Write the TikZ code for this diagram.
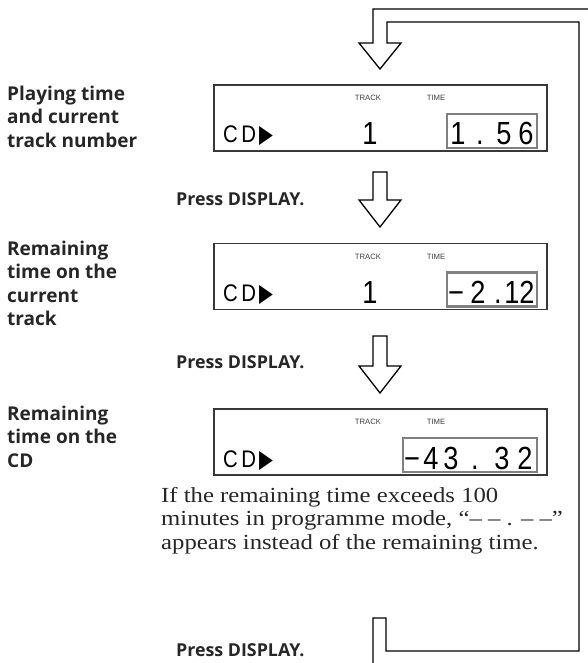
\documentclass[tikz,border=0pt]{standalone}
\usepackage{fontspec}
\setmainfont{Liberation Serif}
\newfontfamily\notefont{Liberation Serif}[FakeStretch=1.15]
\newfontfamily\labfont{Open Sans}
\newfontfamily\lcdfont{Liberation Sans}[FakeStretch=0.85]
\newfontfamily\smallfont{Liberation Sans}
\newfontfamily\symfont{DejaVu Sans}
\newcommand{\cdplay}{C\hspace{3.5pt}D\hspace{3pt}{\symfont\fontsize{25}{25}\selectfont\scalebox{0.72}[1]{▶}}}
\begin{document}
\begin{tikzpicture}[x=1pt,y=-1pt,
  loopline/.style={draw=black,line width=1.3pt,line join=miter},
  dispbox/.style={draw=black!78,line width=1.3pt,minimum width=333pt,minimum height=66pt,inner sep=0pt},
  timebox/.style={draw=black!50,line width=2.2pt,minimum height=34pt,inner sep=0pt},
  lab/.style={font=\labfont\bfseries\fontsize{19}{23.5}\selectfont,anchor=north west,align=left,inner sep=0pt,text=black!85},
  press/.style={font=\labfont\bfseries\fontsize{17.8}{20}\selectfont,anchor=base west,inner sep=0pt,text=black!85},
  small/.style={font=\smallfont\fontsize{7.7}{8}\selectfont,text=black!75,inner sep=0pt},
  seg/.style={font=\lcdfont\fontsize{32}{32}\selectfont,anchor=base,inner sep=0pt},
  cd/.style={font=\lcdfont\fontsize{24}{24}\selectfont,anchor=base west,inner sep=0pt},
  note/.style={font=\notefont\fontsize{21.5}{23.5}\selectfont,anchor=north west,align=left,inner sep=0pt,text=black!85}
]
\useasboundingbox (0,0) rectangle (587,663);

% loop connector
\draw[loopline] (373,663) -- (373,618) -- (386,618) -- (386,651) -- (579,651) -- (579,22) -- (387,22) -- (387,43) -- (401,43) -- (380,69) -- (359,43) -- (373,43) -- (373,9) -- (588,9);

% displays
\node[dispbox] (d1) at (380.5,118) {};
\node[dispbox] (d2) at (380.5,276.5) {};
\node[dispbox] (d3) at (380.5,442) {};

% time boxes
\node[timebox,minimum width=90pt] (t1) at (492,131) {};
\node[timebox,minimum width=90pt] (t2) at (492,289.5) {};
\node[timebox,minimum width=134pt] (t3) at (470,455) {};

% TRACK / TIME labels
\node[small] (tr1) at (368,98) {TRACK};
\node[small] (ti1) at (436,98) {TIME};
\node[small] (tr2) at (368,256.5) {TRACK};
\node[small] (ti2) at (436,256.5) {TIME};
\node[small] (tr3) at (368,422) {TRACK};
\node[small] (ti3) at (436,422) {TIME};

% CD play symbols
\node[cd] (cd1) at (223,143) {\cdplay};
\node[cd] (cd2) at (223,301.5) {\cdplay};
\node[cd] (cd3) at (223,467) {\cdplay};

% track numbers
\node[seg] (n1) at (370,145) {1};
\node[seg] (n2) at (370,303.5) {1};

% time readouts
\node[seg] (a1) at (458,145) {1};
\node[seg] (a2) at (480,145) {.};
\node[seg] (a3) at (504,145) {5};
\node[seg] (a4) at (526,145) {6};

\node[seg] (b1) at (456,303.5) {−};
\node[seg] (b2) at (478,303.5) {2};
\node[seg] (b3) at (498,303.5) {.};
\node[seg] (b4) at (512,303.5) {1};
\node[seg] (b5) at (527,303.5) {2};

\node[seg] (c1) at (412,469) {−};
\node[seg] (c2) at (431,469) {4};
\node[seg] (c3) at (451,469) {3};
\node[seg] (c4) at (475,469) {.};
\node[seg] (c5) at (502,469) {3};
\node[seg] (c6) at (525,469) {2};

% block arrows
\draw[loopline] (373,172) -- (387,172) -- (387,200) -- (401,200) -- (380,227) -- (359,200) -- (373,200) -- cycle;
\draw[loopline] (373,336) -- (387,336) -- (387,366) -- (401,366) -- (380,393) -- (359,366) -- (373,366) -- cycle;

% left labels
\node[lab] (l1) at (7,85.5) {Playing time\\and current\\track number};
\node[lab] (l2) at (7,240.5) {Remaining\\time on the\\current\\track};
\node[lab] (l3) at (7,405.5) {Remaining\\time on the\\CD};

% press labels
\node[press] (p1) at (176,205) {Press DISPLAY.};
\node[press] (p2) at (176,368) {Press DISPLAY.};
\node[press] (p3) at (176,656) {Press DISPLAY.};

% note
\node[note] (nt) at (161,487) {If the remaining time exceeds 100\\minutes in programme mode, “– – . – –”\\appears instead of the remaining time.};
\end{tikzpicture}
\end{document}
